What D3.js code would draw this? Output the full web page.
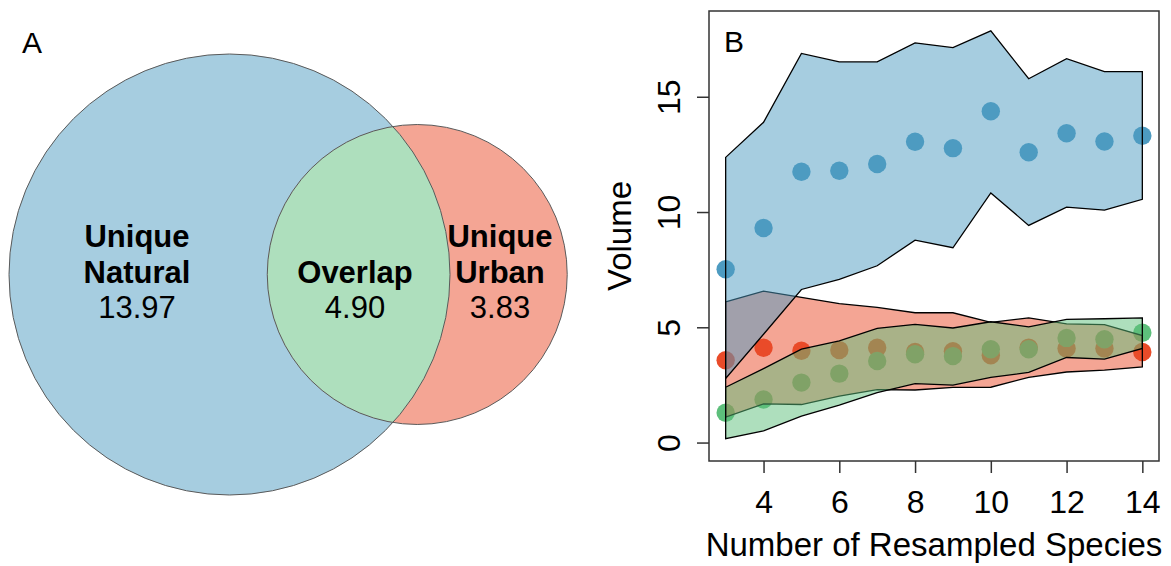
<!DOCTYPE html>
<html><head><meta charset="utf-8">
<script src="https://cdn.jsdelivr.net/npm/d3@7"></script>
<style>
html,body{margin:0;padding:0;background:#fff;}
svg text{font-family:"Liberation Sans",Arial,Helvetica,sans-serif;}
</style></head>
<body>
<svg id="chart" width="1171" height="566"></svg>
<script>
// ---------- Panel A data ----------
const vennLabels = [["Unique","Natural"],["Overlap"],["Unique","Urban"]];
const vennValues = [13.97, 4.90, 3.83];   // unique natural, overlap, unique urban

// ---------- Panel B data ----------
const xVals   = [3,4,5,6,7,8,9,10,11,12,13,14];
const natMean = [7.52, 9.31, 11.75, 11.79, 12.08, 13.05, 12.77, 14.37, 12.59, 13.42, 13.06, 13.31];
const natUpper= [12.37, 13.89, 16.88, 16.51, 16.51, 17.34, 17.13, 17.86, 15.78, 16.65, 16.09, 16.09];
const natLower= [2.78, 4.70, 6.64, 7.08, 7.67, 8.78, 8.45, 10.83, 9.42, 10.21, 10.08, 10.55];
const urbMean = [3.57, 4.11, 3.98, 4.01, 4.11, 3.93, 3.96, 3.79, 4.12, 4.08, 4.08, 3.93];
const urbUpper= [6.10, 6.57, 6.30, 6.03, 5.86, 5.63, 5.63, 5.21, 5.41, 5.15, 5.12, 4.64];
const urbLower= [1.10, 1.68, 1.65, 2.01, 2.30, 2.28, 2.39, 2.40, 2.83, 3.06, 3.14, 3.28];
const ovlMean = [1.29, 1.87, 2.60, 2.99, 3.54, 3.83, 3.75, 4.05, 4.05, 4.54, 4.48, 4.76];
const ovlUpper= [2.40, 3.21, 4.05, 4.41, 4.95, 5.13, 4.97, 5.24, 5.02, 5.34, 5.37, 5.41];
const ovlLower= [0.17, 0.51, 1.15, 1.62, 2.17, 2.56, 2.49, 2.83, 3.04, 3.69, 3.62, 4.08];
const xTicks = [4,6,8,10,12,14];
const yTicks = [0,5,10,15];
const xTitle = "Number of Resampled Species";
const yTitle = "Volume";

const colBlue = "#4D9BC1", colRed = "#E94B29", colGreen = "#5DBF7B";

const svg = d3.select("#chart");
const FONT = 30;

// ================= Panel A: Venn =================
const natTotal = vennValues[0] + vennValues[1];
const urbTotal = vennValues[2] + vennValues[1];
const rScale = d3.scaleSqrt().domain([0, natTotal]).range([0, 220.5]);
const r1 = rScale(natTotal), r2 = rScale(urbTotal);
function lens(d){
  const a = Math.acos((d*d + r1*r1 - r2*r2)/(2*d*r1));
  const b = Math.acos((d*d + r2*r2 - r1*r1)/(2*d*r2));
  return r1*r1*a + r2*r2*b - 0.5*Math.sqrt((-d+r1+r2)*(d+r1-r2)*(d-r1+r2)*(d+r1+r2));
}
const target = Math.PI*r1*r1 * vennValues[1]/natTotal;
let lo = r1 - r2 + 1e-6, hi = r1 + r2 - 1e-6;
for (let i=0;i<100;i++){ const m=(lo+hi)/2; if (lens(m) > target) lo = m; else hi = m; }
const dist = (lo+hi)/2;
const c1 = {x:229.5, y:274.5}, c2 = {x:229.5+dist, y:274.5};

const gA = svg.append("g");
gA.append("defs").append("clipPath").attr("id","clipNat")
  .append("circle").attr("cx",c1.x).attr("cy",c1.y).attr("r",r1);
gA.append("circle").attr("cx",c1.x).attr("cy",c1.y).attr("r",r1).attr("fill","#A6CDE0");
gA.append("circle").attr("cx",c2.x).attr("cy",c2.y).attr("r",r2).attr("fill","#F4A594");
gA.append("circle").attr("cx",c2.x).attr("cy",c2.y).attr("r",r2).attr("fill","#AEDFBD")
  .attr("clip-path","url(#clipNat)");
gA.append("circle").attr("cx",c1.x).attr("cy",c1.y).attr("r",r1).attr("fill","none")
  .attr("stroke","#5a5a5a").attr("stroke-width",1);
gA.append("circle").attr("cx",c2.x).attr("cy",c2.y).attr("r",r2).attr("fill","none")
  .attr("stroke","#5a5a5a").attr("stroke-width",1);

const labelX = [137, 355, 500];
const lineH = 35.5;
vennLabels.forEach((lines, i) => {
  const n = lines.length;
  const valueBase = 318;
  lines.forEach((t, j) => {
    gA.append("text").attr("x", labelX[i]).attr("y", valueBase - (n - j)*lineH)
      .attr("text-anchor","middle").attr("font-size",FONT+1).attr("font-weight","bold").text(t);
  });
  gA.append("text").attr("x", labelX[i]).attr("y", valueBase)
    .attr("text-anchor","middle").attr("font-size",FONT+1).text(vennValues[i].toFixed(2));
});
gA.append("text").attr("x",22).attr("y",53).attr("font-size",FONT).text("A");

// ================= Panel B =================
const x = d3.scaleLinear().domain([2.56, 14.44]).range([709, 1159]);
const y = d3.scaleLinear().domain([-0.8, 18.72]).range([461, 11]);
const gB = svg.append("g");

const series = [
  {mean:natMean, up:natUpper, low:natLower, col:colBlue},
  {mean:urbMean, up:urbUpper, low:urbLower, col:colRed},
  {mean:ovlMean, up:ovlUpper, low:ovlLower, col:colGreen}
];
// points first
series.forEach(s => {
  gB.selectAll(null).data(xVals.map((v,i)=>[v,s.mean[i]])).enter()
    .append("circle").attr("cx",d=>x(d[0])).attr("cy",d=>y(d[1])).attr("r",9.2)
    .attr("fill",s.col);
});
// bands on top (red, blue, green)
const area = d3.area().x(d=>x(d[0])).y0(d=>y(d[1])).y1(d=>y(d[2]));
[series[1], series[0], series[2]].forEach(s => {
  const pts = xVals.map((v,i)=>[v, s.low[i], s.up[i]]);
  gB.append("path").attr("d", area(pts))
    .attr("fill", s.col).attr("fill-opacity",0.5)
    .attr("stroke","#000").attr("stroke-width",1.3).attr("stroke-linejoin","miter");
});

// box
gB.append("rect").attr("x",709).attr("y",11).attr("width",450).attr("height",450)
  .attr("fill","none").attr("stroke","#333").attr("stroke-width",1.5);

// axes
const xAxis = d3.axisBottom(x).tickValues(xTicks).tickSize(12).tickPadding(0).tickFormat(d3.format("d"));
const gx = gB.append("g").attr("transform","translate(0,461)").call(xAxis);
gx.select(".domain").remove();
gx.selectAll(".tick line").attr("stroke","#333").attr("stroke-width",1.5);
gx.selectAll(".tick text").attr("font-size",32).attr("fill","#000")
  .attr("dy",null).attr("y",52).attr("font-family",'"Liberation Sans",Arial,sans-serif');

const yAxis = d3.axisLeft(y).tickValues(yTicks).tickSize(12).tickFormat(d3.format("d"));
const gy = gB.append("g").attr("transform","translate(709,0)").call(yAxis);
gy.select(".domain").remove();
gy.selectAll(".tick line").attr("stroke","#333").attr("stroke-width",1.5);
gy.selectAll(".tick text").attr("font-size",32).attr("fill","#000")
  .attr("x",null).attr("dy",null)
  .attr("text-anchor","middle")
  .attr("transform","translate(-29,0) rotate(-90)")
  .attr("font-family",'"Liberation Sans",Arial,sans-serif');

gB.append("text").attr("x",934).attr("y",556).attr("text-anchor","middle")
  .attr("font-size",33).text(xTitle);
gB.append("text").attr("transform","translate(631,236) rotate(-90)").attr("text-anchor","middle")
  .attr("font-size",33).text(yTitle);
gB.append("text").attr("x",724).attr("y",52).attr("font-size",FONT).text("B");
</script>
</body></html>
